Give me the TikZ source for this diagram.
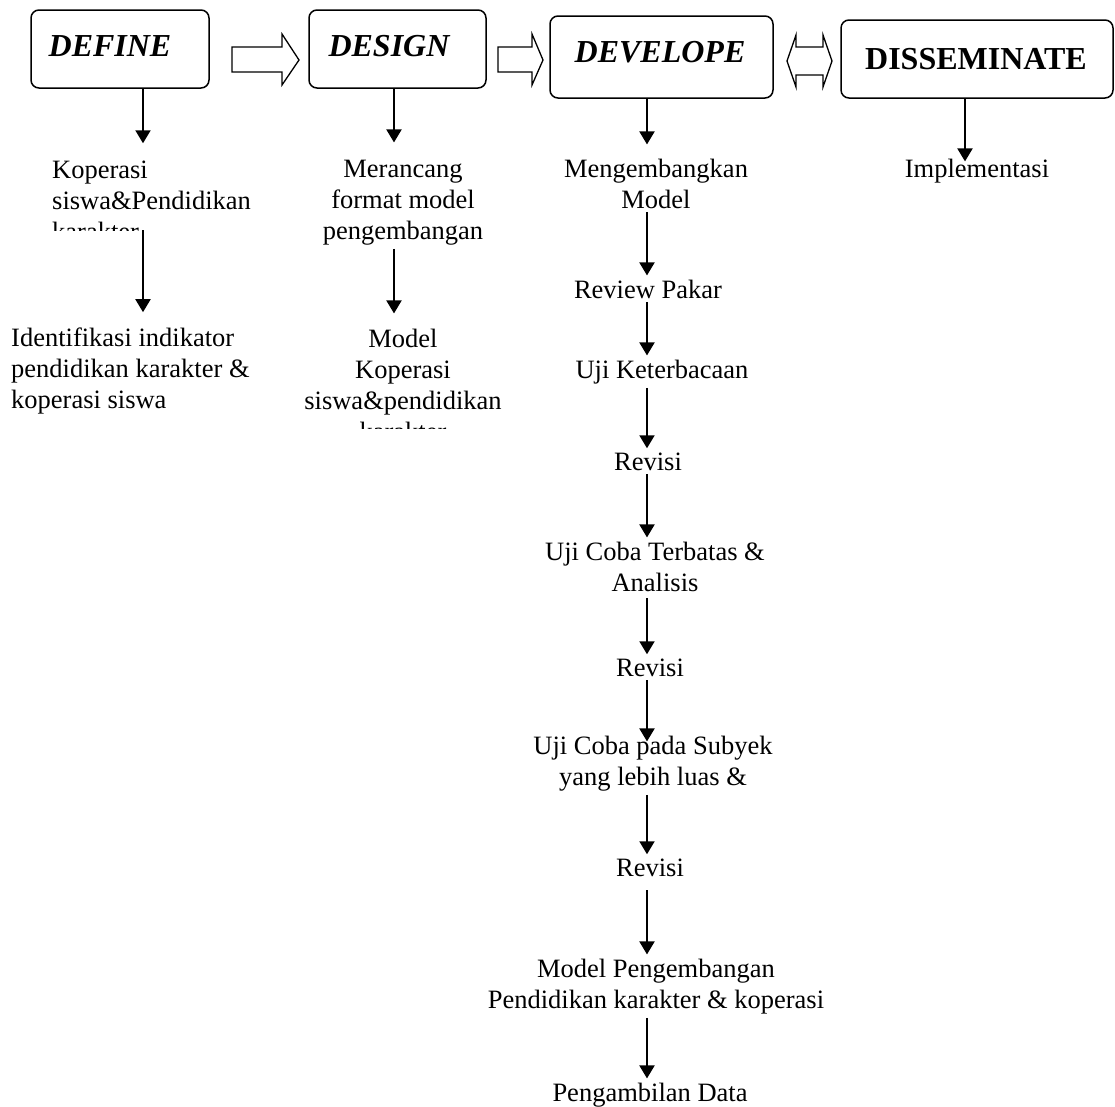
\documentclass[tikz,border=0pt]{standalone}
\usepackage{fontspec}
\setmainfont{Liberation Serif}
\usetikzlibrary{arrows.meta, positioning}

\tikzset{
  stage/.style={draw, rounded corners=8pt, line width=1.5pt, inner sep=0pt},
  stagetitle/.style={font=\fontsize{32}{38}\selectfont\bfseries\itshape, inner sep=0pt},
  txt/.style={font=\fontsize{26.5}{31}\selectfont, inner xsep=0pt, inner ysep=4pt, align=center, anchor=base},
  flow/.style={line width=2pt, -{Triangle[length=13pt,width=15pt]}},
  blockarrow/.style={draw, line width=1.3pt, line join=miter}
}

\begin{document}
\begin{tikzpicture}[x=1pt, y=-1pt]
  \useasboundingbox (0,0) rectangle (1115,1106);

  % the four stages
  \node[stage, minimum width=178pt, minimum height=78pt] (define) at (120,49) {};
  \node[stage, minimum width=177pt, minimum height=78pt] (design) at (397.5,49) {};
  \node[stage, minimum width=223pt, minimum height=82pt] (develope) at (661.5,57) {};
  \node[stage, minimum width=272pt, minimum height=78pt] (disseminate) at (977,59) {};
  \node[stagetitle] (definetitle) at (110,46) {DEFINE};
  \node[stagetitle] (designtitle) at (389,46) {DESIGN};
  \node[stagetitle] (developetitle) at (660,52) {DEVELOPE};
  \node[stagetitle, font=\fontsize{32}{38}\selectfont\bfseries] (disseminatetitle) at (976,59) {DISSEMINATE};

  % block arrows between the stages
  \draw[blockarrow] (232,47) -- (282,47) -- (282,34) -- (299,60) -- (282,85) -- (282,72) -- (232,72) -- cycle;
  \draw[blockarrow] (498,47) -- (532,47) -- (532,34) -- (543,60) -- (532,85) -- (532,72) -- (498,72) -- cycle;
  \draw[blockarrow] (787,61) -- (796,35) -- (796,47) -- (823,47) -- (823,35) -- (832,61) -- (823,87) -- (823,75) -- (796,75) -- (796,87) -- cycle;

  % columns of the arrows
  \coordinate (colA) at (143,0);
  \coordinate (colB) at (394,0);
  \coordinate (colC) at (647,0);
  \coordinate (colD) at (965,0);

  % define
  \begin{scope}
    \clip (0,0) rectangle (300,230);
    \node[txt, anchor=base west, align=left] (koperasi) at (52,240) {Koperasi\\siswa\&Pendidikan\\karakter};
  \end{scope}
  \node[txt, anchor=base west, align=left] (identifikasi) at (11,408) {Identifikasi indikator\\pendidikan karakter \&\\koperasi siswa};

  % design
  \node[txt] (merancang) at (403,239) {Merancang\\format model\\pengembangan};
  \begin{scope}
    \clip (300,0) rectangle (540,428);
    \node[txt] (modelkoperasi) at (403,440) {Model\\Koperasi\\siswa\&pendidikan\\karakter};
  \end{scope}

  % develope
  \node[txt] (mengembangkan) at (656,208) {Mengembangkan\\Model};
  \node[txt] (review) at (648,298) {Review Pakar};
  \node[txt] (keterbacaan) at (662,378) {Uji Keterbacaan};
  \node[txt] (revisia) at (648,470) {Revisi};
  \node[txt] (terbatas) at (655,591) {Uji Coba Terbatas \&\\Analisis};
  \node[txt] (revisib) at (650,676) {Revisi};
  \node[txt] (subyek) at (653,785) {Uji Coba pada Subyek\\yang lebih luas \&};
  \node[txt] (revisic) at (650,876) {Revisi};
  \node[txt] (modelpengembangan) at (656,1008) {Model Pengembangan\\Pendidikan karakter \& koperasi};
  \node[txt] (pengambilan) at (650,1101) {Pengambilan Data};

  % disseminate
  \node[txt] (implementasi) at (977,177) {Implementasi};

  % arrows
  \draw[flow, shorten >=13pt] (define.south -| colA) -- (koperasi.north -| colA);
  \draw[flow, shorten <=-14pt, shorten >=11pt] (koperasi.south -| colA) -- (identifikasi.north -| colA);
  \draw[flow, shorten >=13pt] (design.south -| colB) -- (merancang.north -| colB);
  \draw[flow, shorten >=11pt] (merancang.south -| colB) -- (modelkoperasi.north -| colB);
  \draw[flow, shorten >=10pt] (develope.south -| colC) -- (mengembangkan.north -| colC);
  \draw[flow] (mengembangkan.south -| colC) -- (review.north -| colC);
  \draw[flow] (review.south -| colC) -- (keterbacaan.north -| colC);
  \draw[flow] (keterbacaan.south -| colC) -- (revisia.north -| colC);
  \draw[flow] (revisia.south -| colC) -- (terbatas.north -| colC);
  \draw[flow, shorten <=3pt] (terbatas.south -| colC) -- (revisib.north -| colC);
  \draw[flow, shorten >=-10pt] (revisib.south -| colC) -- (subyek.north -| colC);
  \draw[flow] (subyek.south -| colC) -- (revisic.north -| colC);
  \draw[flow, shorten <=10pt] (revisic.south -| colC) -- (modelpengembangan.north -| colC);
  \draw[flow] (modelpengembangan.south -| colC) -- (pengambilan.north -| colC);
  \draw[flow, shorten >=-7pt] (disseminate.south -| colD) -- (implementasi.north -| colD);
\end{tikzpicture}
\end{document}
